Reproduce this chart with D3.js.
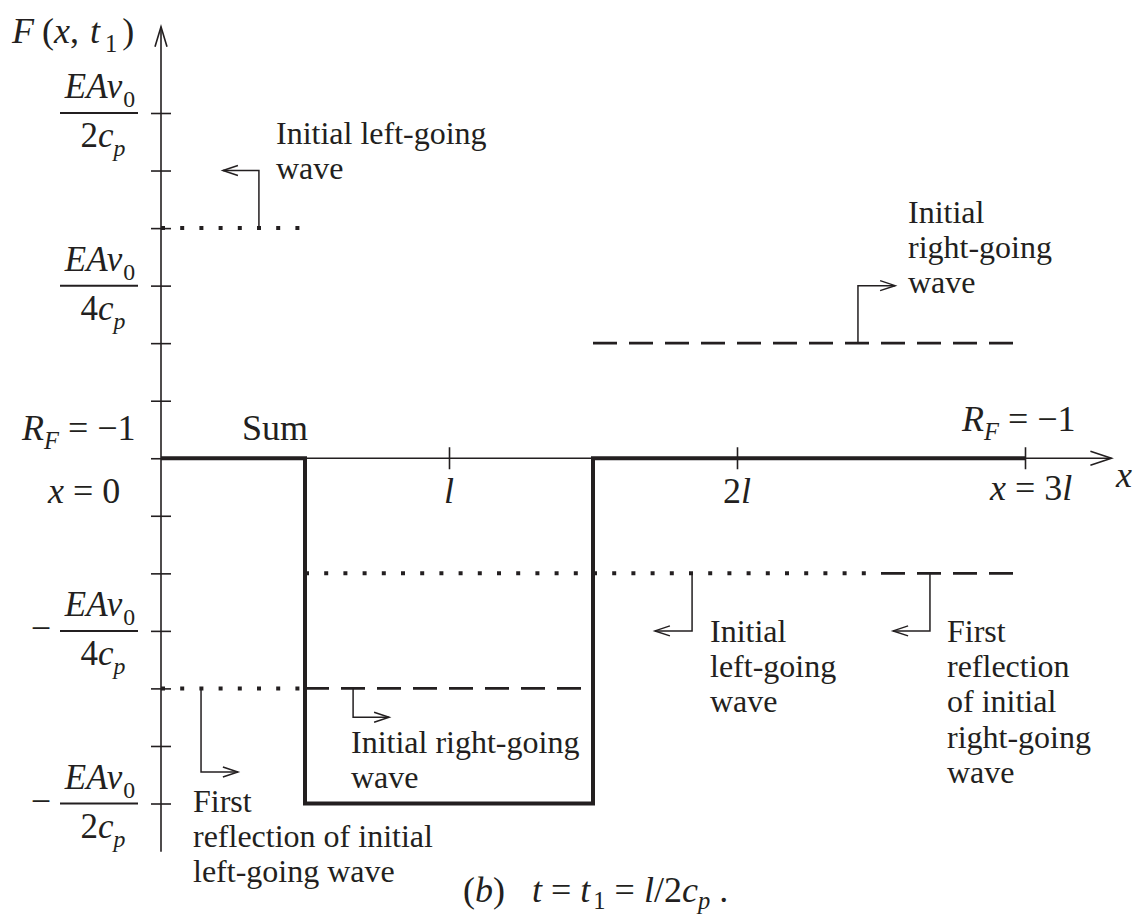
<!DOCTYPE html>
<html><head><meta charset="utf-8">
<script src="https://cdn.jsdelivr.net/npm/d3@7"></script>
<style>
html,body{margin:0;padding:0;background:#fff;}
svg{display:block;}
</style></head><body>
<svg id="chart" width="1138" height="918"></svg>
<script>
// Position along the bar, in multiples of l
const xTickValues = [1, 2, 3];
const xTickLabels = ["l", "2l", "x = 3l"];
// Force levels, in units of EAv0/cp
const yTickValues = [-0.5, -0.4167, -0.3333, -0.25, -0.1667, -0.0833, 0,
                     0.0833, 0.1667, 0.25, 0.3333, 0.4167, 0.5];
const yLabelValues = [0.5, 0.25, -0.25, -0.5];
const yLabelDenoms = ["2", "4", "4", "2"];

// Total force F(x, t1)
const sumX = [0, 0.5, 0.5, 1.5, 1.5, 3];
const sumF = [0, 0, -0.5, -0.5, 0, 0];

// Component waves, piecewise constant
const waveStart = [0, 0.5, 1.5, 0.5, 0, 2.5];
const waveEnd   = [0.5, 2.5, 3, 1.5, 0.5, 3];
const waveValue = [0.3333, -0.1667, 0.1667, -0.3333, -0.3333, -0.1667];
const waveStyle = ["dotted", "dotted", "dashed", "dashed", "dotted", "dashed"];

const INK = "#231f20";
const FONT = '"Liberation Serif", "Times New Roman", Times, serif';
const svg = d3.select("#chart");
const x = d3.scaleLinear().domain([0, 3]).range([161, 1025]);
const y = d3.scaleLinear().domain([-0.5, 0.5]).range([803.5, 113]);

function addText(sel, px, py, size) {
  return sel.append("text").attr("x", px).attr("y", py)
    .style("font-family", FONT).style("font-size", size + "px")
    .style("white-space", "pre").attr("fill", INK);
}

// text with italic pieces and subscripts
function math(sel, px, py, parts, anchor = "start", size = 36, drop = 0.26) {
  const t = addText(sel, px, py, size).attr("text-anchor", anchor);
  let lowered = false;
  parts.forEach(([s, k, dx]) => {
    const sub = k === "si" || k === "sr";
    const sp = t.append("tspan").text(s)
      .style("font-style", (k === "i" || k === "si") ? "italic" : "normal");
    if (sub) sp.style("font-size", (0.68 * size) + "px");
    if (sub && !lowered) { sp.attr("dy", drop * size); lowered = true; }
    else if (!sub && lowered) { sp.attr("dy", -drop * size); lowered = false; }
    if (dx) sp.attr("dx", dx);
  });
  return t;
}

function arrowHead(sel, ex, ey, dir, len, half, w) {
  let d;
  if (dir === "u") d = `M${ex - half},${ey + len}L${ex},${ey}L${ex + half},${ey + len}`;
  else {
    const s = dir === "r" ? 1 : -1;
    d = `M${ex - s * len},${ey - half}L${ex},${ey}L${ex - s * len},${ey + half}`;
  }
  sel.append("path").attr("d", d).attr("fill", "none")
    .attr("stroke", INK).attr("stroke-width", w);
}

// component waves
const waves = svg.append("g");
waveStart.forEach((s, i) => {
  const dotted = waveStyle[i] === "dotted";
  waves.append("line")
    .attr("x1", x(s)).attr("x2", x(waveEnd[i]))
    .attr("y1", y(waveValue[i])).attr("y2", y(waveValue[i]))
    .attr("stroke", INK)
    .attr("stroke-width", dotted ? 4 : 2.6)
    .attr("stroke-dasharray", dotted ? "4,15.2" : "24,12");
});

// axes
const yAxisG = svg.append("g").attr("transform", `translate(${x(0) + 10},0)`)
  .call(d3.axisLeft(y).tickValues(yTickValues).tickSize(20).tickFormat(""));
yAxisG.select(".domain").remove();
yAxisG.selectAll("line").attr("stroke", INK).attr("stroke-width", 1.6);

const xAxisG = svg.append("g").attr("transform", `translate(0,${y(0) - 11})`)
  .call(d3.axisBottom(x).tickValues(xTickValues).tickSize(22).tickFormat(""));
xAxisG.select(".domain").remove();
xAxisG.selectAll("line").attr("stroke", INK).attr("stroke-width", 1.6);

const yTop = y(0.625), yBot = y(-0.57), xEnd = x(3.3);
svg.append("line").attr("x1", x(0)).attr("x2", x(0)).attr("y1", yTop).attr("y2", yBot)
  .attr("stroke", INK).attr("stroke-width", 1.6);
arrowHead(svg, x(0), yTop, "u", 20, 6, 1.6);
svg.append("line").attr("x1", x(0)).attr("x2", xEnd).attr("y1", y(0)).attr("y2", y(0))
  .attr("stroke", INK).attr("stroke-width", 1.6);
arrowHead(svg, xEnd, y(0), "r", 21, 7, 1.6);

// total force
svg.append("path")
  .datum(sumX.map((v, i) => [v, sumF[i]]))
  .attr("d", d3.line().x(d => x(d[0])).y(d => y(d[1])))
  .attr("fill", "none").attr("stroke", INK).attr("stroke-width", 4)
  .attr("stroke-linejoin", "miter");

// axis labels
math(svg, 12, 43, [["F", "i"], ["(", "r", 8], ["x", "i"], [",", "r"], ["t", "i", 11], ["1", "sr", 5], [")", "r", 5]]);
yLabelValues.forEach((v, i) => {
  const cy = y(v);
  svg.append("line").attr("x1", 60).attr("x2", 138).attr("y1", cy).attr("y2", cy)
    .attr("stroke", INK).attr("stroke-width", 2);
  math(svg, 100, cy - 15, [["E", "i"], ["A", "i"], ["v", "i", 1], ["0", "sr", 1]], "middle", 35);
  math(svg, 103, cy + 34, [[yLabelDenoms[i], "r"], ["c", "i"], ["p", "si"]], "middle", 35);
  if (v < 0) math(svg, 41, cy + 9, [["−", "r"]], "middle", 36);
});
math(svg, 22, 440, [["R", "i"], ["F", "si"], [" = −1", "r"]]);
math(svg, 48, 503, [["x", "i"], [" = 0", "r"]]);
math(svg, x(xTickValues[0]), 503, [[xTickLabels[0], "i"]], "middle");
math(svg, x(xTickValues[1]), 503, [["2", "r"], ["l", "i"]], "middle");
math(svg, 990, 500, [["x", "i"], [" = 3", "r"], ["l", "i"]]);
math(svg, 962, 431, [["R", "i"], ["F", "si"], [" = −1", "r"]]);
math(svg, 1116, 487, [["x", "i"]]);
addText(svg, 242, 440, 36).text("Sum");

math(svg, 463, 902, [["(", "r"], ["b", "i"], [")   ", "r"], ["t", "i"], [" = ", "r"], ["t", "i"],
  ["1", "sr", 3], [" = ", "r"], ["l", "i"], ["/2", "r"], ["c", "i"], ["p", "si"], [" .", "r"]],
  "start", 36, 0.2);

// leader lines with callout text
const notes = [
  { pts: [[0.34, 0.3333], [0.34, 0.4167], [0.215, 0.4167]], dir: "l",
    tx: 276, ty: 144, lines: ["Initial left-going", "wave"] },
  { pts: [[2.42, 0.1667], [2.42, 0.25], [2.549, 0.25]], dir: "r",
    tx: 908, ty: 223, lines: ["Initial", "right-going", "wave"] },
  { pts: [[1.844, -0.1667], [1.844, -0.25], [1.715, -0.25]], dir: "l",
    tx: 710, ty: 642, lines: ["Initial", "left-going", "wave"] },
  { pts: [[2.67, -0.1667], [2.67, -0.25], [2.542, -0.25]], dir: "l",
    tx: 947, ty: 642, lines: ["First", "reflection", "of initial", "right-going", "wave"] },
  { pts: [[0.667, -0.3333], [0.667, -0.375], [0.792, -0.375]], dir: "r",
    tx: 351, ty: 753, lines: ["Initial right-going", "wave"] },
  { pts: [[0.139, -0.3333], [0.139, -0.4545], [0.267, -0.4545]], dir: "r",
    tx: 193, ty: 812, lines: ["First", "reflection of initial", "left-going wave"] }
];
notes.forEach(n => {
  const p = n.pts.map(d => [x(d[0]), y(d[1])]);
  svg.append("path").attr("d", d3.line()(p)).attr("fill", "none")
    .attr("stroke", INK).attr("stroke-width", 1.5);
  const e = p[p.length - 1];
  arrowHead(svg, e[0], e[1], n.dir, 15, 5, 1.5);
  const t = addText(svg, n.tx, n.ty, 32);
  n.lines.forEach((s, i) => {
    t.append("tspan").attr("x", n.tx).attr("y", n.ty + i * 35.2).text(s);
  });
});
</script>
</body></html>
